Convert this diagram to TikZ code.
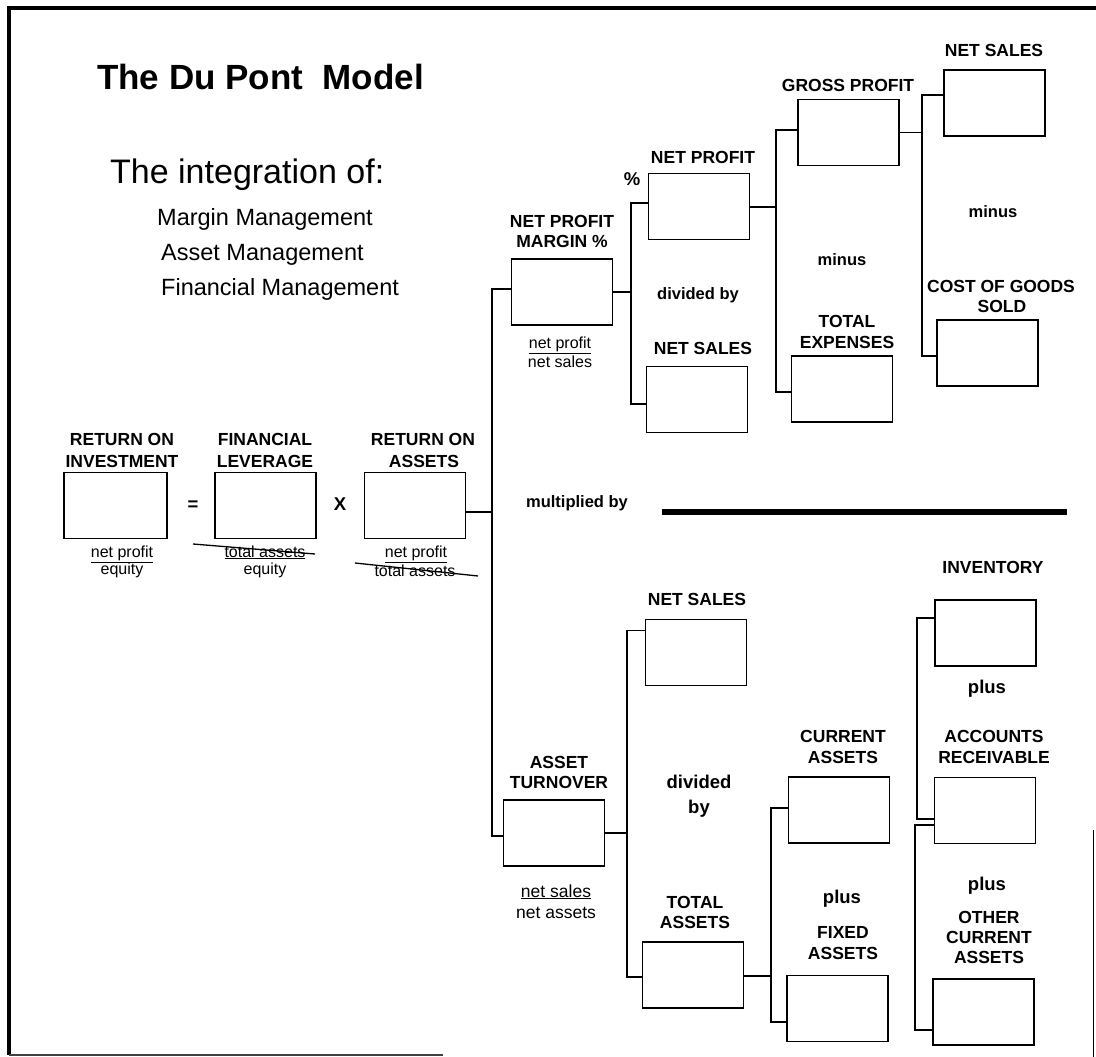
\documentclass[tikz,border=0pt]{standalone}
\usepackage{fontspec}
\setmainfont{Liberation Sans}
\newcommand\lblfont{\bfseries\fontsize{17.5}{21}\selectfont}
\newcommand\opfont{\bfseries\fontsize{16.5}{20}\selectfont}
\newcommand\bigopfont{\bfseries\fontsize{18.5}{22}\selectfont}
\newcommand\fracfont{\fontsize{16}{19}\selectfont}
\newcommand\bigfracfont{\fontsize{17.5}{21}\selectfont}
\begin{document}
\begin{tikzpicture}[x=1pt,y=-1pt,
  box/.style={draw, line width=1.4pt, minimum width=101pt, minimum height=66pt, inner sep=0pt},
  lbl/.style={font=\lblfont, anchor=base, inner sep=0pt},
  op/.style={font=\opfont, anchor=base, inner sep=0pt},
  bigop/.style={font=\bigopfont, anchor=base, inner sep=0pt},
  frac/.style={font=\fracfont, anchor=base, inner sep=0pt},
  bigfrac/.style={font=\bigfracfont, anchor=base, inner sep=0pt},
  wire/.style={line width=1.4pt},
  strike/.style={line width=1.3pt},
  frame/.style={line width=3.5pt}]
\useasboundingbox (0,0) rectangle (1096,1057);

% page frame
\draw[frame] (1096,8) -- (9,8) -- (9,1055);
\draw[line width=2pt, black!75] (9,1055) -- (443,1055);
\draw[line width=1pt] (1093,830) -- (1093,1057);

% heading
\node[anchor=base west, inner sep=0pt, font=\bfseries\fontsize{35}{40}\selectfont] (title) at (97,90) {The Du Pont\ \ Model};
\node[anchor=base west, inner sep=0pt, font=\fontsize{34}{40}\selectfont] (integ) at (110,183) {The integration of:};
\node[anchor=base west, inner sep=0pt, font=\fontsize{23.5}{28}\selectfont] (mm) at (157,225) {Margin Management};
\node[anchor=base west, inner sep=0pt, font=\fontsize{23.5}{28}\selectfont] (am) at (161,260) {Asset Management};
\node[anchor=base west, inner sep=0pt, font=\fontsize{23.5}{28}\selectfont] (fm) at (161,295) {Financial Management};

% boxes
\node[box, minimum width=103pt] (roi) at (115.5,505.5) {};
\node[box] (fl)   at (265.5,505.5) {};
\node[box] (roa)  at (415,505.5) {};
\node[box] (npm)  at (562,292) {};
\node[box] (np)   at (699,206.5) {};
\node[box] (ns1)  at (697,399.5) {};
\node[box] (gp)   at (848.5,132.5) {};
\node[box] (te)   at (842,389) {};
\node[box] (ns2)  at (994.5,103) {};
\node[box] (cogs) at (987.5,353) {};
\node[box] (at)   at (554,833) {};
\node[box] (ns3)  at (696,652.5) {};
\node[box] (ta)   at (693,975) {};
\node[box] (ca)   at (839,810) {};
\node[box] (fa)   at (837.5,1008.5) {};
\node[box] (inv)  at (985.5,633) {};
\node[box] (ar)   at (985,810.5) {};
\node[box] (oca)  at (983.5,1012) {};

% labels over the boxes
\node[lbl] (roiL1) at (122,445) {RETURN ON};
\node[lbl] (roiL2) at (122,467) {INVESTMENT};
\node[lbl] (flL1) at (265,445) {FINANCIAL};
\node[lbl] (flL2) at (265,467) {LEVERAGE};
\node[lbl] (roaL1) at (423,445) {RETURN ON};
\node[lbl] (roaL2) at (424,467) {ASSETS};
\node[lbl] (npmL1) at (562,227) {NET PROFIT};
\node[lbl] (npmL2) at (562,247) {MARGIN \%};
\node[lbl] (npL) at (703,163) {NET PROFIT};
\node[lbl] (ns1L) at (703,354) {NET SALES};
\node[lbl] (gpL) at (848,92) {GROSS PROFIT};
\node[lbl] (teL1) at (847,327) {TOTAL};
\node[lbl] (teL2) at (847,348) {EXPENSES};
\node[lbl] (ns2L) at (994,57) {NET SALES};
\node[lbl] (cogsL1) at (1001,292) {COST OF GOODS};
\node[lbl] (cogsL2) at (1002,312) {SOLD};
\node[lbl] (atL1) at (559,768) {ASSET};
\node[lbl] (atL2) at (559,788) {TURNOVER};
\node[lbl] (ns3L) at (697,605) {NET SALES};
\node[lbl] (taL1) at (695,908) {TOTAL};
\node[lbl] (taL2) at (695,928) {ASSETS};
\node[lbl] (caL1) at (843,742) {CURRENT};
\node[lbl] (caL2) at (843,763) {ASSETS};
\node[lbl] (faL1) at (843,938) {FIXED};
\node[lbl] (faL2) at (843,959) {ASSETS};
\node[lbl] (invL) at (993,573) {INVENTORY};
\node[lbl] (arL1) at (994,742) {ACCOUNTS};
\node[lbl] (arL2) at (994,763) {RECEIVABLE};
\node[lbl] (ocaL1) at (989,923) {OTHER};
\node[lbl] (ocaL2) at (989,943) {CURRENT};
\node[lbl] (ocaL3) at (989,963) {ASSETS};

% operators between the boxes
\node[bigop] (eq) at (193,510) {=};
\node[bigop] (times) at (340,510) {X};
\node[bigop] (pct) at (632,185) {\%};
\node[op] (div1) at (698,299) {divided by};
\node[op] (minus1) at (842,265) {minus};
\node[op] (minus2) at (993,217) {minus};
\node[op] (mult) at (577,507) {multiplied by};
\node[bigop] (div2a) at (699,788) {divided};
\node[bigop] (div2b) at (699,813) {by};
\node[bigop] (plus1) at (842,903) {plus};
\node[bigop] (plus2) at (987,693) {plus};
\node[bigop] (plus3) at (987,890) {plus};

% ratios under the boxes
\node[frac] (roiN) at (122,557) {\underline{net profit}};
\node[frac] (roiD) at (122,574) {equity};
\node[frac] (flN) at (265,557) {\underline{total assets}};
\node[frac] (flD) at (265,574) {equity};
\node[frac] (roaN) at (416,557) {\underline{net profit}};
\node[frac] (roaD) at (415,576) {total assets};
\node[frac] (npmN) at (560,348) {\underline{net profit}};
\node[frac] (npmD) at (560,367) {net sales};
\node[bigfrac] (atN) at (556,897) {\underline{net sales}};
\node[bigfrac] (atD) at (556,918) {net assets};

% struck-out ratios
\coordinate (sA1) at (193,544); \coordinate (sA2) at (315,554);
\coordinate (sB1) at (355,563); \coordinate (sB2) at (478,576);
\draw[strike] (sA1) -- (sA2);
\draw[strike] (sB1) -- (sB2);

% vertical buses of the brackets
\coordinate (busA) at (492,0);
\coordinate (busB) at (631,0);
\coordinate (busC) at (776,0);
\coordinate (busD) at (922,0);
\coordinate (busE) at (627,0);
\coordinate (busF) at (771,0);
\coordinate (busG) at (917,0);
\coordinate (busH) at (915,0);

% attachment points on the boxes
\coordinate (npmIn) at ([yshift=3pt]npm.west);
\coordinate (npIn) at ([yshift=3.5pt]np.west);
\coordinate (ns1In) at ([yshift=-4.5pt]ns1.west);
\coordinate (gpIn) at ([yshift=2.5pt]gp.west);
\coordinate (teIn) at ([yshift=-3pt]te.west);
\coordinate (ns2In) at ([yshift=8pt]ns2.west);
\coordinate (cogsIn) at ([yshift=-3pt]cogs.west);
\coordinate (atIn) at ([yshift=-3pt]at.west);
\coordinate (ns3In) at ([yshift=22pt]ns3.west);
\coordinate (taIn) at ([yshift=-2pt]ta.west);
\coordinate (caIn) at ([yshift=2pt]ca.west);
\coordinate (faIn) at ([yshift=-13.5pt]fa.west);
\coordinate (invIn) at ([yshift=15pt]inv.west);
\coordinate (arInA) at ([yshift=-8.5pt]ar.west);
\coordinate (arInB) at ([yshift=-14.5pt]ar.west);
\coordinate (ocaIn) at ([yshift=-18pt]oca.west);
\coordinate (roaOut) at ([yshift=-6.5pt]roa.east);
\coordinate (npOut) at ([yshift=-0.5pt]np.east);
\coordinate (atOut) at (at.east);
\coordinate (taOut) at ([yshift=-1pt]ta.east);

% brackets
\draw[wire] (roaOut) -- (roaOut -| busA);
\draw[wire] (npmIn) -- (npmIn -| busA) -- (atIn -| busA) -- (atIn);

\draw[wire] (npm.east) -- (npm.east -| busB);
\draw[wire] (npIn) -- (npIn -| busB) -- (ns1In -| busB) -- (ns1In);

\draw[wire] (npOut) -- (npOut -| busC);
\draw[wire] (gpIn) -- (gpIn -| busC) -- (teIn -| busC) -- (teIn);

\draw[wire] (gp.east) -- (gp.east -| busD);
\draw[wire] (ns2In) -- (ns2In -| busD) -- (cogsIn -| busD) -- (cogsIn);

\draw[wire] (atOut) -- (atOut -| busE);
\draw[wire] (ns3In) -- (ns3In -| busE) -- (taIn -| busE) -- (taIn);

\draw[wire] (taOut) -- (taOut -| busF);
\draw[wire] (caIn) -- (caIn -| busF) -- (faIn -| busF) -- (faIn);

\draw[wire] (invIn) -- (invIn -| busG) -- (arInA -| busG) -- (arInA);
\draw[wire] (arInB) -- (arInB -| busH) -- (ocaIn -| busH) -- (ocaIn);

% divider between the margin and the turnover branches
\coordinate (divL) at (662,512);
\coordinate (divR) at (1067,512);
\draw[line width=6pt] (divL) -- (divR);
\end{tikzpicture}
\end{document}
